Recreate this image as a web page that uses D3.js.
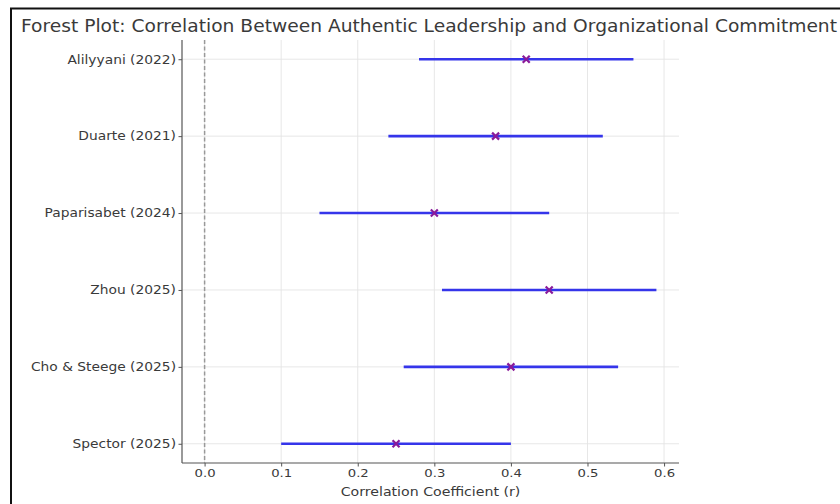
<!DOCTYPE html>
<html><head><meta charset="utf-8">
<script src="https://cdn.jsdelivr.net/npm/d3@7"></script>
<style>body{margin:0;background:#fff;} text{font-family:"DejaVu Sans",sans-serif;}</style>
</head><body>
<svg id="c" width="840" height="504"></svg>
<script>
const studies = ["Alilyyani (2022)","Duarte (2021)","Paparisabet (2024)","Zhou (2025)","Cho & Steege (2025)","Spector (2025)"];
const effects = [0.42,0.38,0.30,0.45,0.40,0.25];
const lowerCI = [0.28,0.24,0.15,0.31,0.26,0.10];
const upperCI = [0.56,0.52,0.45,0.59,0.54,0.40];
const xTicks = [0.0,0.1,0.2,0.3,0.4,0.5,0.6];
const title = "Forest Plot: Correlation Between Authentic Leadership and Organizational Commitment";
const xLabel = "Correlation Coefficient (r)";

const svg = d3.select("#c");
const L=182, R=679, T=40, B=463;
const data = studies.map((s,i)=>({s, e:effects[i], lo:lowerCI[i], hi:upperCI[i], i}));
const xmin = Math.min(0, d3.min(lowerCI)), xmax = d3.max(upperCI);
const pad = (xmax-xmin)*0.05;
const x = d3.scaleLinear().domain([xmin-pad, xmax+pad]).range([L,R]);
const n = studies.length;
const y = d3.scaleLinear().domain([-0.25, n-1+0.25]).range([T,B]);

function stretch(sel, k){
  sel.each(function(){
    const w = this.getComputedTextLength();
    d3.select(this).attr("textLength", w*k).attr("lengthAdjust","spacingAndGlyphs");
  });
}

// frame border (top and left)
svg.append("line").attr("x1",10).attr("x2",840).attr("y1",8.5).attr("y2",8.5).attr("stroke","#111").attr("stroke-width",2);
svg.append("line").attr("x1",11).attr("x2",11).attr("y1",8).attr("y2",504).attr("stroke","#111").attr("stroke-width",2);

// grid
const g = svg.append("g");
g.selectAll(".vg").data(xTicks).join("line")
  .attr("x1",d=>x(d)).attr("x2",d=>x(d)).attr("y1",T).attr("y2",B)
  .attr("stroke","#e4e4e4").attr("stroke-width",0.9);
g.selectAll(".hg").data(data).join("line")
  .attr("x1",L).attr("x2",R).attr("y1",d=>y(d.i)).attr("y2",d=>y(d.i))
  .attr("stroke","#e4e4e4").attr("stroke-width",0.9);

// zero line
svg.append("line").attr("x1",x(0)).attr("x2",x(0)).attr("y1",T).attr("y2",B)
  .attr("stroke","#999").attr("stroke-width",1.5).attr("stroke-dasharray","4,2.5");

// CI lines
svg.selectAll(".ci").data(data).join("line")
  .attr("x1",d=>x(d.lo)).attr("x2",d=>x(d.hi)).attr("y1",d=>y(d.i)).attr("y2",d=>y(d.i))
  .attr("stroke","#3535ea").attr("stroke-width",2.6);

// markers
const ms=3.5;
const mk = svg.selectAll(".mk").data(data).join("g").attr("transform",d=>`translate(${x(d.e)},${y(d.i)})`);
mk.append("path").attr("d",`M${-ms},${-ms}L${ms},${ms}M${-ms},${ms}L${ms},${-ms}`)
  .attr("stroke","#8a1a9a").attr("stroke-width",2.2);

// axes
const xa = svg.append("g").attr("transform",`translate(0,${B})`)
  .call(d3.axisBottom(x).tickValues(xTicks).tickFormat(d3.format(".1f")).tickSize(3.5).tickPadding(3));
const ya = svg.append("g").attr("transform",`translate(${L},0)`)
  .call(d3.axisLeft(y).tickValues(d3.range(n)).tickFormat(i=>studies[i]).tickSize(3.5).tickPadding(2.5));
[xa,ya].forEach(a=>{
  a.selectAll(".domain").remove();
  a.selectAll(".tick line").attr("stroke","#555");
  a.selectAll(".tick text").attr("fill","#3a3a3a").style("font-family","DejaVu Sans");
});
xa.selectAll(".tick text").style("font-size","11px");
ya.selectAll(".tick text").style("font-size","11.8px");
stretch(xa.selectAll(".tick text"), 1.2);
stretch(ya.selectAll(".tick text"), 1.17);
svg.append("line").attr("x1",L).attr("x2",R).attr("y1",B).attr("y2",B).attr("stroke","#555").attr("stroke-width",1.2);
svg.append("line").attr("x1",L).attr("x2",L).attr("y1",T).attr("y2",B).attr("stroke","#555").attr("stroke-width",1.2);

const xl = svg.append("text").attr("x",(L+R)/2).attr("y",496).attr("text-anchor","middle")
  .attr("fill","#3a3a3a").style("font-size","11.5px").text(xLabel);
stretch(xl, 1.23);
const tt = svg.append("text").attr("x",429).attr("y",32).attr("text-anchor","middle")
  .attr("fill","#3a3a3a").style("font-size","17.3px").text(title);
tt.attr("textLength",816).attr("lengthAdjust","spacingAndGlyphs");
</script>
</body></html>
